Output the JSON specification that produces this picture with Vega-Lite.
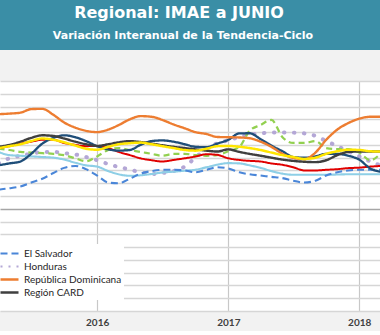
{
  "$schema": "https://vega.github.io/schema/vega-lite/v6.json",
  "background": "#f2f2f2",
  "padding": {"left": 0, "top": 0, "right": 0, "bottom": 4},
  "config": {"view": {"stroke": null, "fill": "white"}},
  "spacing": 31,
  "vconcat": [
    {
      "width": 380,
      "height": 50,
      "view": {"fill": "#3a8ea6", "stroke": null},
      "data": {"values": [
        {"linea": "t", "texto": "Regional: IMAE a JUNIO"},
        {"linea": "s", "texto": "Variación Interanual de la Tendencia-Ciclo"}
      ]},
      "encoding": {
        "y": {"field": "linea", "type": "nominal", "scale": {"type": "point", "domain": ["t", "s"], "padding": 0.5}, "axis": null},
        "text": {"field": "texto"}
      },
      "layer": [
        {"transform": [{"filter": "datum.linea === 't'"}],
         "mark": {"type": "text", "font": "DejaVu Sans", "fontWeight": "bold", "fontSize": 16, "color": "white", "dx": -11}},
        {"transform": [{"filter": "datum.linea === 's'"}],
         "mark": {"type": "text", "font": "DejaVu Sans", "fontWeight": "bold", "fontSize": 11, "color": "white", "dx": -7, "dy": -2}}
      ]
    },
    {
      "width": 380,
      "height": 230,
      "data": {"values": [
        {"fecha": "2015-04-01", "CR": 4.74, "ES": 1.5, "GT": 4.45, "HN": 3.55, "NI": 4.7, "PA": 3.4, "RD": 7.4, "CARD": 4.85, "CA": 4.74},
        {"fecha": "2015-05-01", "CR": 4.9, "ES": 1.6, "GT": 4.2, "HN": 3.95, "NI": 4.6, "PA": 3.55, "RD": 7.45, "CARD": 5.0, "CA": 4.9},
        {"fecha": "2015-06-01", "CR": 5.1, "ES": 1.75, "GT": 4.15, "HN": 4.15, "NI": 4.45, "PA": 3.7, "RD": 7.52, "CARD": 5.25, "CA": 5.05},
        {"fecha": "2015-07-01", "CR": 5.25, "ES": 2.05, "GT": 4.1, "HN": 4.3, "NI": 4.4, "PA": 4.3, "RD": 7.8, "CARD": 5.55, "CA": 5.3},
        {"fecha": "2015-08-01", "CR": 5.4, "ES": 2.35, "GT": 4.05, "HN": 4.45, "NI": 4.35, "PA": 5.1, "RD": 7.82, "CARD": 5.75, "CA": 5.5},
        {"fecha": "2015-09-01", "CR": 5.4, "ES": 2.8, "GT": 4.0, "HN": 4.45, "NI": 4.3, "PA": 5.55, "RD": 7.35, "CARD": 5.7, "CA": 5.4},
        {"fecha": "2015-10-01", "CR": 5.15, "ES": 3.2, "GT": 3.85, "HN": 4.35, "NI": 4.2, "PA": 5.75, "RD": 6.75, "CARD": 5.5, "CA": 5.2},
        {"fecha": "2015-11-01", "CR": 5.0, "ES": 3.35, "GT": 3.6, "HN": 4.25, "NI": 3.95, "PA": 5.6, "RD": 6.35, "CARD": 5.25, "CA": 4.95},
        {"fecha": "2015-12-01", "CR": 4.9, "ES": 3.1, "GT": 3.4, "HN": 4.05, "NI": 3.72, "PA": 5.3, "RD": 6.1, "CARD": 5.05, "CA": 4.7},
        {"fecha": "2016-01-01", "CR": 4.92, "ES": 2.6, "GT": 3.3, "HN": 3.8, "NI": 4.1, "PA": 4.9, "RD": 6.0, "CARD": 4.92, "CA": 4.62},
        {"fecha": "2016-02-01", "CR": 4.75, "ES": 2.05, "GT": 2.95, "HN": 3.5, "NI": 4.6, "PA": 4.65, "RD": 6.2, "CARD": 5.05, "CA": 4.85},
        {"fecha": "2016-03-01", "CR": 4.45, "ES": 2.0, "GT": 2.7, "HN": 3.27, "NI": 4.75, "PA": 4.55, "RD": 6.55, "CARD": 5.2, "CA": 5.05},
        {"fecha": "2016-04-01", "CR": 4.2, "ES": 2.35, "GT": 2.58, "HN": 3.07, "NI": 4.6, "PA": 4.6, "RD": 7.0, "CARD": 5.29, "CA": 5.13},
        {"fecha": "2016-05-01", "CR": 3.95, "ES": 2.75, "GT": 2.62, "HN": 2.85, "NI": 4.45, "PA": 5.0, "RD": 7.25, "CARD": 5.22, "CA": 5.18},
        {"fecha": "2016-06-01", "CR": 3.8, "ES": 2.95, "GT": 2.72, "HN": 2.72, "NI": 4.3, "PA": 5.3, "RD": 7.2, "CARD": 5.1, "CA": 5.05},
        {"fecha": "2016-07-01", "CR": 3.7, "ES": 3.05, "GT": 2.84, "HN": 2.8, "NI": 4.15, "PA": 5.35, "RD": 6.95, "CARD": 4.97, "CA": 4.9},
        {"fecha": "2016-08-01", "CR": 3.82, "ES": 3.05, "GT": 2.9, "HN": 2.95, "NI": 4.3, "PA": 5.25, "RD": 6.6, "CARD": 4.85, "CA": 4.75},
        {"fecha": "2016-09-01", "CR": 3.95, "ES": 3.0, "GT": 2.98, "HN": 3.3, "NI": 4.3, "PA": 5.05, "RD": 6.3, "CARD": 4.75, "CA": 4.6},
        {"fecha": "2016-10-01", "CR": 4.09, "ES": 2.85, "GT": 3.05, "HN": 4.0, "NI": 4.2, "PA": 4.85, "RD": 6.0, "CARD": 4.65, "CA": 4.55},
        {"fecha": "2016-11-01", "CR": 4.27, "ES": 3.05, "GT": 3.25, "HN": 4.7, "NI": 4.15, "PA": 4.82, "RD": 5.85, "CARD": 4.55, "CA": 4.7},
        {"fecha": "2016-12-01", "CR": 4.22, "ES": 3.25, "GT": 3.45, "HN": 5.13, "NI": 4.2, "PA": 5.1, "RD": 5.62, "CARD": 4.48, "CA": 4.9},
        {"fecha": "2017-01-01", "CR": 3.95, "ES": 3.15, "GT": 3.57, "HN": 5.35, "NI": 4.5, "PA": 5.4, "RD": 5.6, "CARD": 4.65, "CA": 4.92},
        {"fecha": "2017-02-01", "CR": 3.82, "ES": 2.85, "GT": 3.55, "HN": 5.62, "NI": 4.85, "PA": 5.9, "RD": 5.58, "CARD": 4.45, "CA": 4.85},
        {"fecha": "2017-03-01", "CR": 3.75, "ES": 2.7, "GT": 3.4, "HN": 5.8, "NI": 6.1, "PA": 5.91, "RD": 5.52, "CARD": 4.3, "CA": 4.75},
        {"fecha": "2017-04-01", "CR": 3.7, "ES": 2.6, "GT": 3.2, "HN": 5.91, "NI": 6.56, "PA": 5.45, "RD": 5.25, "CARD": 4.15, "CA": 4.6},
        {"fecha": "2017-05-01", "CR": 3.55, "ES": 2.5, "GT": 2.95, "HN": 5.96, "NI": 6.95, "PA": 4.95, "RD": 4.85, "CARD": 4.0, "CA": 4.4},
        {"fecha": "2017-06-01", "CR": 3.44, "ES": 2.4, "GT": 2.75, "HN": 5.96, "NI": 5.6, "PA": 4.5, "RD": 4.3, "CARD": 3.85, "CA": 4.2},
        {"fecha": "2017-07-01", "CR": 3.25, "ES": 2.2, "GT": 2.66, "HN": 5.96, "NI": 5.15, "PA": 4.05, "RD": 3.98, "CARD": 3.75, "CA": 4.05},
        {"fecha": "2017-08-01", "CR": 3.0, "ES": 2.05, "GT": 2.66, "HN": 5.9, "NI": 5.15, "PA": 4.0, "RD": 3.88, "CARD": 3.68, "CA": 3.9},
        {"fecha": "2017-09-01", "CR": 3.0, "ES": 2.2, "GT": 2.66, "HN": 5.7, "NI": 5.3, "PA": 4.1, "RD": 4.4, "CARD": 3.65, "CA": 4.0},
        {"fecha": "2017-10-01", "CR": 3.05, "ES": 2.6, "GT": 2.66, "HN": 5.3, "NI": 4.75, "PA": 4.3, "RD": 5.4, "CARD": 3.8, "CA": 4.3},
        {"fecha": "2017-11-01", "CR": 3.1, "ES": 2.85, "GT": 2.68, "HN": 4.9, "NI": 4.66, "PA": 4.3, "RD": 6.2, "CARD": 4.2, "CA": 4.5},
        {"fecha": "2017-12-01", "CR": 3.18, "ES": 3.0, "GT": 2.7, "HN": 4.5, "NI": 4.66, "PA": 4.15, "RD": 6.7, "CARD": 4.45, "CA": 4.62},
        {"fecha": "2018-01-01", "CR": 3.22, "ES": 3.05, "GT": 2.7, "HN": 4.1, "NI": 4.4, "PA": 3.85, "RD": 7.05, "CARD": 4.48, "CA": 4.6},
        {"fecha": "2018-02-01", "CR": 3.3, "ES": 3.05, "GT": 2.7, "HN": 3.7, "NI": 3.8, "PA": 3.15, "RD": 7.2, "CARD": 4.48, "CA": 4.5},
        {"fecha": "2018-03-01", "CR": 3.35, "ES": 3.05, "GT": 2.7, "HN": 3.4, "NI": 4.3, "PA": 2.9, "RD": 7.2, "CARD": 4.48, "CA": 4.48}
      ]},
      "transform": [
        {"fold": ["HN", "GT", "ES", "NI", "CR", "PA", "RD", "CARD", "CA"], "as": ["serie", "valor"]}
      ],
      "encoding": {
        "x": {
          "field": "fecha", "type": "temporal",
          "scale": {"domain": [{"year": 2015, "month": 4, "date": 5}, {"year": 2018, "month": 2, "date": 28}], "nice": false},
          "axis": {
            "title": null, "values": [{"year": 2016, "month": 1, "date": 1}, {"year": 2017, "month": 1, "date": 1}, {"year": 2018, "month": 1, "date": 1}],
            "format": "%Y", "ticks": false, "domain": false, "grid": true, "gridColor": "#c8c8c8", "gridWidth": 1.2,
            "labelFont": "Lato", "labelFontWeight": "bold", "labelFontSize": 10, "labelColor": "#404040",
            "labelPadding": 6, "labelDx": 5
          }
        },
        "y": {
          "field": "valor", "type": "quantitative",
          "scale": {"domain": [-8, 10], "nice": false, "zero": false},
          "axis": {
            "title": null, "labels": false, "ticks": false, "domain": false, "tickCount": 100,
            "values": [-8, -7, -6, -5, -4, -3, -2, -1, 0, 1, 2, 3, 4, 5, 6, 7, 8, 9, 10],
            "gridColor": {"condition": {"test": "datum.value === 0", "value": "#a6a6a6"}, "value": "#d6d6d6"},
            "gridWidth": 1.3
          }
        },
        "color": {
          "field": "serie", "type": "nominal",
          "scale": {
            "domain": ["CR", "ES", "GT", "HN", "NI", "PA", "RD", "CARD", "CA"],
            "range": ["#e00000", "#4a86d8", "#8ecfe6", "#b4a7d6", "#92d050", "#1f4e79", "#ed7d31", "#3f3f3f", "#ffe600"]
          },
          "legend": {
            "values": ["ES", "HN", "RD", "CARD"],
            "labelExpr": "datum.label === 'ES' ? 'El Salvador' : datum.label === 'HN' ? 'Honduras' : datum.label === 'RD' ? 'República Dominicana' : datum.label === 'CARD' ? 'Región CARD' : datum.label",
            "title": null, "orient": "none", "legendX": 0, "legendY": 244,
            "padding": 2, "fillColor": "white", "symbolType": "M-1.5,0H1.5", "symbolSize": 144,
            "labelFont": "Lato", "labelFontSize": 10, "labelColor": "#262626", "labelOffset": 7, "rowPadding": 0
          }
        }
      },
      "layer": [
        {
          "transform": [{"filter": "datum.serie === 'HN'"}],
          "mark": {"type": "line", "clip": true, "interpolate": "monotone", "strokeWidth": 4, "strokeDash": [0.5, 9.5], "strokeCap": "round"}
        },
        {
          "transform": [{"filter": "datum.serie !== 'HN'"}],
          "mark": {"type": "line", "clip": true, "interpolate": "monotone"},
          "encoding": {
            "strokeDash": {
              "field": "serie", "type": "nominal",
              "scale": {
                "domain": ["CR", "ES", "GT", "HN", "NI", "PA", "RD", "CARD", "CA"],
                "range": [[1, 0], [7, 4], [1, 0], [2, 6], [6, 4], [1, 0], [1, 0], [1, 0], [1, 0]]
              }
            },
            "strokeWidth": {
              "field": "serie", "type": "nominal",
              "scale": {
                "domain": ["CR", "ES", "GT", "HN", "NI", "PA", "RD", "CARD", "CA"],
                "range": [2, 2.5, 2, 4, 2.5, 2, 2, 3.5, 3.5]
              }
            }
          }
        }
      ]
    }
  ]
}
